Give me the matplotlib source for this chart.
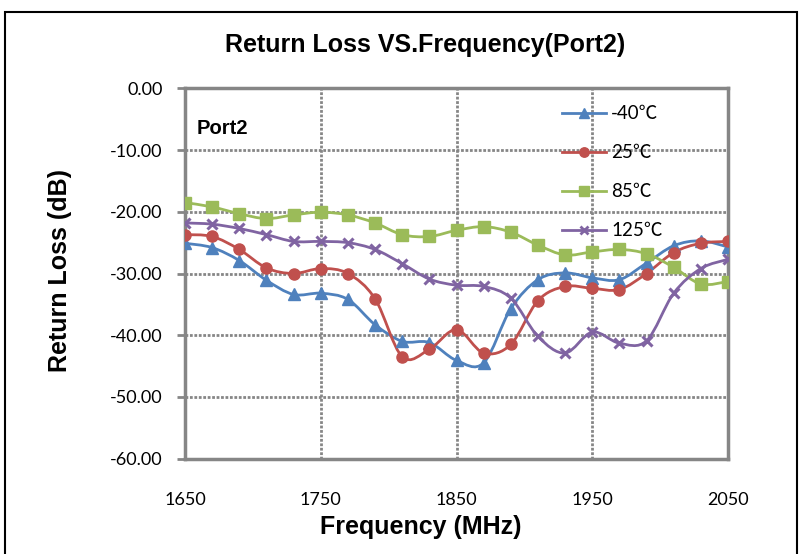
import matplotlib.pyplot as plt
import numpy as np
from matplotlib.path import Path
from matplotlib.patches import PathPatch, Rectangle
from matplotlib.lines import Line2D

freq = [1650, 1670, 1690, 1710, 1730, 1750, 1770, 1790, 1810, 1830, 1850,
        1870, 1890, 1910, 1930, 1950, 1970, 1990, 2010, 2030, 2050]
rl_m40 = [-25.1, -25.8, -27.9, -31.1, -33.4, -33.2, -34.2, -38.3, -41.0, -41.2, -44.1,
          -44.5, -35.7, -31.0, -29.9, -30.7, -31.0, -28.3, -25.5, -24.7, -25.7]
rl_25 = [-23.7, -24.0, -26.1, -29.1, -30.0, -29.2, -30.0, -34.1, -43.5, -42.3, -39.1,
         -42.9, -41.5, -34.4, -32.1, -32.4, -32.6, -30.0, -26.6, -25.1, -24.8]
rl_85 = [-18.5, -19.2, -20.3, -21.1, -20.5, -20.05, -20.5, -21.8, -23.7, -24.0, -23.0,
         -22.4, -23.3, -25.4, -27.0, -26.5, -26.1, -26.8, -29.0, -31.7, -31.3]
rl_125 = [-21.8, -22.0, -22.7, -23.7, -24.8, -24.8, -25.0, -26.1, -28.4, -30.9, -31.9,
          -32.1, -34.0, -40.2, -42.9, -39.5, -41.3, -40.9, -33.2, -29.2, -27.7]

series = [
    ("-40℃", rl_m40, "#4F81BD", "^", 8),
    ("25℃", rl_25, "#C0504D", "o", 8),
    ("85℃", rl_85, "#9BBB59", "s", 8),
    ("125℃", rl_125, "#8064A2", "x", 7),
]

xticks = [1650, 1750, 1850, 1950, 2050]
yticks = [0, -10, -20, -30, -40, -50, -60]

grid_col = "#868686"
tick_font = ["Lato", "Noto Sans CJK SC", "DejaVu Sans"]


def smooth_path(x, y):
    # excel-style smoothed line as cubic bezier segments
    pts = np.column_stack([x, y]).astype(float)
    n = len(pts)
    verts = [pts[0]]
    codes = [Path.MOVETO]
    for i in range(n - 1):
        p0 = pts[i - 1] if i > 0 else pts[i]
        p1 = pts[i]
        p2 = pts[i + 1]
        p3 = pts[i + 2] if i + 2 < n else pts[i + 1]
        c1 = p1 + (p2 - p0) / 6.0
        c2 = p2 - (p3 - p1) / 6.0
        verts += [c1, c2, p2]
        codes += [Path.CURVE4] * 3
    return Path(verts, codes)


fig = plt.figure(figsize=(8.03, 5.54), dpi=100)
ax = fig.add_axes([185 / 803, 1 - 458.5 / 554, 543 / 803, 370 / 554])

for name, vals, col, mk, ms in series:
    ax.add_patch(PathPatch(smooth_path(freq, vals), fill=False, edgecolor=col,
                           linewidth=2.0, zorder=3, capstyle="round"))
    ax.plot(freq, vals, linestyle="none", marker=mk, color=col, markersize=ms,
            markeredgewidth=2.2 if mk == "x" else 1, zorder=4)

ax.set_xlim(1650, 2050)
ax.set_ylim(-60, 0)
ax.set_xticks(xticks)
ax.set_yticks(yticks)
ax.set_yticklabels([f"{v:.2f}" for v in yticks])
ax.tick_params(axis="x", length=0, pad=24, labelsize=13)
ax.tick_params(axis="y", length=6, width=2, color=grid_col, pad=10, labelsize=13)
for lab in ax.get_xticklabels() + ax.get_yticklabels():
    lab.set_family(tick_font)

ax.grid(True, color=grid_col, linestyle=(0, (1, 0.6)), linewidth=2)
for s in ax.spines.values():
    s.set_color(grid_col)
    s.set_linewidth(2.5)

ax.text(0.022, 0.893, "Port2", transform=ax.transAxes, fontsize=14.5,
        fontweight="bold", family="Liberation Sans", va="center")

handles = [Line2D([0], [0], color=c, marker=m, markersize=ms * 0.85, linewidth=2,
                  markeredgewidth=2 if m == "x" else 1)
           for _, _, c, m, ms in series]
leg = ax.legend(handles, [s[0] for s in series], loc="upper left",
                bbox_to_anchor=(0.664, 1.0), frameon=False, handlelength=2.3,
                labelspacing=1.17, handletextpad=0.3,
                prop={"family": tick_font, "size": 13.5})

fig.text(425 / 803, 1 - 45 / 554, "Return Loss VS.Frequency(Port2)", ha="center",
         va="center", fontsize=18, fontweight="bold", family="Liberation Sans")
fig.text(421 / 803, 1 - 527 / 554, "Frequency (MHz)", ha="center", va="center",
         fontsize=18, fontweight="bold", family="Liberation Sans")
fig.text(60 / 803, 1 - 270 / 554, "Return Loss (dB)", ha="center", va="center",
         rotation=90, fontsize=18, fontweight="bold", family="Liberation Sans")

fig.patches.append(Rectangle((5 / 803, -0.05), 792 / 803, 1.05 - 12 / 554,
                             transform=fig.transFigure, fill=False,
                             edgecolor="black", linewidth=1.5))

fig.savefig("out.png", dpi=100)
